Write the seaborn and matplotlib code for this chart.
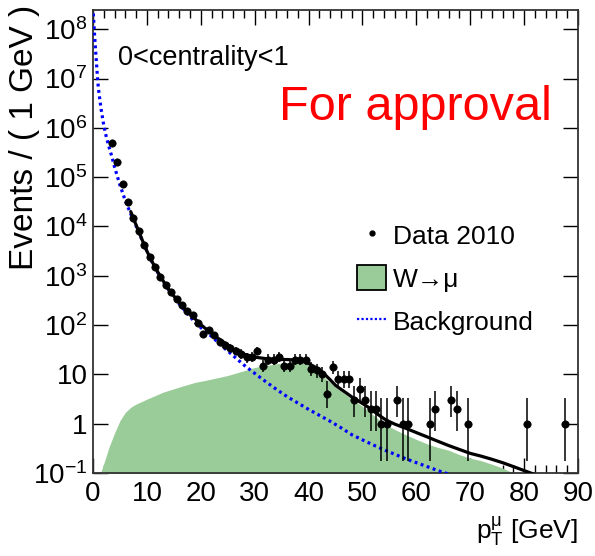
import numpy as np
import pandas as pd
import matplotlib
matplotlib.use("Agg")
import matplotlib.pyplot as plt
import seaborn as sns
from matplotlib.lines import Line2D
from matplotlib.patches import Patch
from matplotlib.ticker import FixedLocator, FuncFormatter, MultipleLocator

# ---- data: muon pT spectrum, 1 GeV bins ----
data_pt = [3.5, 4.5, 5.5, 6.5, 7.5, 8.5, 9.5, 10.5, 11.5, 12.5, 13.5, 14.5, 15.5,
           16.5, 17.5, 18.5, 19.5, 20.5, 21.5, 22.5, 23.5, 24.5, 25.5, 26.5, 27.5,
           28.5, 29.5, 30.5, 31.5, 32.5, 33.5, 34.5, 35.5, 36.5, 37.5, 38.5, 39.5,
           40.5, 41.5, 42.5, 43.5, 44.5, 45.5, 46.5, 47.5, 48.5, 49.5, 50.5, 51.5,
           52.5, 53.5, 54.5, 56.5, 57.5, 58.5, 62.5, 63.5, 66.5, 67.5, 69.5, 80.5,
           87.5]
data_counts = [500000, 200000, 74000, 32000, 15000, 7900, 4200, 2400, 1480, 955,
               660, 468, 339, 251, 195, 158, 110, 66, 79, 63, 46, 39, 35, 30, 26,
               22, 23, 30, 15, 20, 20, 23, 15, 15, 20, 20, 20, 13, 12, 10, 4, 14,
               8, 8, 8, 3, 5, 3, 2, 2, 1, 1, 3, 1, 1, 1, 2, 3, 2, 1, 1, 1]

# ---- total fit ----
fit_pt = [7, 8, 9, 10, 11, 12, 13, 14, 15, 16, 17, 18, 19, 20, 21, 22, 23, 24, 25,
          26, 27, 28, 29, 30, 32, 34, 36, 38, 39, 40, 41, 42, 43, 44, 45, 46, 47,
          48, 49, 50, 51, 52, 53, 54, 55, 56, 57, 58, 60, 62, 64, 66, 68, 70, 72,
          74, 76, 78, 80, 82]
fit_val = [20000, 10700, 5750, 3160, 1900, 1200, 794, 537, 389, 288, 219, 166, 132,
           102, 83, 69, 56, 47, 39, 33, 29, 25.7, 24.0, 22.4, 20.9, 20.0, 20.0,
           19.5, 18.6, 16.6, 14.5, 12.3, 10.0, 7.8, 6.0, 5.0, 4.2, 3.5, 3.0, 2.57,
           2.19, 1.82, 1.51, 1.26, 1.10, 0.98, 0.89, 0.81, 0.66, 0.54, 0.44, 0.36,
           0.30, 0.25, 0.22, 0.19, 0.162, 0.135, 0.112, 0.093]

# ---- W -> mu signal component ----
w_pt = [1.4, 2.0, 3.0, 4.0, 5.0, 6.0, 7.0, 8.0, 9.0, 10, 11.5, 13, 14.5, 16.5, 19,
        21, 23, 25, 27, 28.5, 30, 32, 34.5, 37, 38.5, 40, 41.5, 42.5, 44, 45, 46.5,
        48, 50, 52, 54, 56, 58, 60, 62, 64, 66, 68, 70, 72, 74, 76, 78, 79]
w_val = [0.10, 0.155, 0.34, 0.65, 1.15, 1.7, 2.15, 2.5, 2.8, 3.15, 3.7, 4.35, 4.9,
         5.75, 6.9, 7.6, 8.5, 9.5, 11.0, 12.3, 13.8, 15.1, 16.6, 17.8, 17.8, 15.5,
         12.0, 9.5, 6.9, 5.5, 4.2, 3.15, 2.25, 1.5, 1.0, 0.76, 0.60, 0.48, 0.39,
         0.33, 0.29, 0.235, 0.20, 0.178, 0.151, 0.126, 0.10, 0.085]

# ---- background component ----
bkg_pt = [0.0, 0.25, 0.5, 0.75, 1.0, 1.5, 2.0, 2.5, 3.0, 3.5, 4.0, 4.5, 5.0, 5.5,
          6.0, 7.0, 8.0, 9.0, 10, 11, 12, 13, 14, 15, 16, 17, 18, 19, 20, 22, 24,
          26, 28, 30, 32, 34, 36, 38, 40, 42, 44, 46, 48, 50, 52, 54, 56, 58, 60,
          62, 64, 66]
bkg_val = [2.8e8, 8.9e7, 3.5e7, 1.4e7, 6.3e6, 2.4e6, 1.12e6, 6.3e5, 4.0e5, 2.6e5,
           1.6e5, 1.05e5, 6.9e4, 4.8e4, 3.3e4, 1.8e4, 1.02e4, 5600, 3160, 1860,
           1170, 776, 525, 372, 269, 200, 148, 112, 89, 59, 37, 24, 15.5, 10.5,
           7.2, 5.0, 3.55, 2.63, 1.95, 1.48, 1.12, 0.83, 0.60, 0.47, 0.37, 0.295,
           0.24, 0.195, 0.162, 0.135, 0.112, 0.095]

x_ticks = [0, 10, 20, 30, 40, 50, 60, 70, 80, 90]
y_ticks = [1e-1, 1, 10, 1e2, 1e3, 1e4, 1e5, 1e6, 1e7, 1e8]

FONT = ["Liberation Sans", "DejaVu Sans"]
sns.set_theme(style="ticks")
plt.rcParams["font.family"] = FONT
plt.rcParams["text.color"] = "black"
plt.rcParams["axes.labelcolor"] = "black"
plt.rcParams["mathtext.fontset"] = "custom"
plt.rcParams["mathtext.rm"] = "Liberation Sans"
plt.rcParams["mathtext.it"] = "Liberation Sans"
plt.rcParams["mathtext.default"] = "regular"

W, H = 595, 556
fig = plt.figure(figsize=(W / 100, H / 100), dpi=100)
ax = fig.add_axes([93 / W, 83 / H, 485 / W, 463 / H])

green = "#99cc99"
ax.fill_between(w_pt, 1e-3, w_val, color=green, lw=0, zorder=1)

fit_df = pd.DataFrame({"pt": fit_pt, "val": fit_val})
bkg_df = pd.DataFrame({"pt": bkg_pt, "val": bkg_val})
sns.lineplot(data=bkg_df, x="pt", y="val", ax=ax, color="#0000ff", lw=2.3,
             linestyle=(0, (0.9, 1.1)), sort=False, zorder=3)
sns.lineplot(data=fit_df, x="pt", y="val", ax=ax, color="black", lw=2.3,
             sort=False, zorder=4)

# Poisson (Gehrels) intervals for the data points
n = np.asarray(data_counts, dtype=float)
lo = n * (1 - 1 / (9 * n) - 1 / (3 * np.sqrt(n))) ** 3
hi = n + 1 + np.sqrt(n + 0.75)
ax.errorbar(data_pt, n, yerr=[n - lo, hi - n], xerr=0.5, fmt="none",
            ecolor="black", elinewidth=1.1, capsize=0, zorder=5)
sns.scatterplot(x=data_pt, y=data_counts, ax=ax, color="black", s=28,
                marker="o", edgecolor="black", linewidth=0.5, zorder=6)

ax.set_yscale("log")
ax.set_xlim(0, 90)
ax.set_ylim(0.1, 2.45e8)
ax.set_xlabel("")
ax.set_ylabel("")

ax.xaxis.set_major_locator(FixedLocator(x_ticks))
ax.xaxis.set_minor_locator(MultipleLocator(2))
ax.yaxis.set_major_locator(FixedLocator(y_ticks))


def ylab(v, pos):
    if abs(v - 1) < 1e-9:
        return "1"
    if abs(v - 10) < 1e-9:
        return "10"
    return r"$10^{%d}$" % int(round(np.log10(v)))


ax.yaxis.set_major_formatter(FuncFormatter(ylab))
ax.tick_params(which="both", direction="in", top=True, right=True,
               width=1.0, color="black", labelsize=20, labelcolor="black")
ax.tick_params(which="major", length=11)
ax.tick_params(which="minor", length=6)
ax.tick_params(axis="x", which="major", pad=6)
ax.tick_params(axis="y", which="major", pad=4)
for s in ax.spines.values():
    s.set_linewidth(1.3)
    s.set_color("#333333")

# axis titles placed at fixed spots of the canvas
fig.text(578 / W, 1 - 531 / H, r"$p_{T}^{\mu}$ [GeV]", fontsize=19,
         ha="right", va="center", color="black")
fig.text(25 / W, 1 - 5 / H, "Events / ( 1 GeV )", fontsize=24, rotation=90,
         ha="center", va="top", color="black")

fig.text(118 / W, 1 - 58 / H, "0<centrality<1", fontsize=19.5,
         va="center", ha="left", color="black")
fig.text(552 / W, 1 - 108 / H, "For approval", fontsize=35, color="#ff0000",
         va="center", ha="right")

handles = [
    Line2D([], [], marker="o", color="black", linestyle="none", markersize=3.5),
    Patch(facecolor=green, edgecolor="black", linewidth=1.3),
    Line2D([], [], color="#0000ff", lw=1.6, linestyle=(0, (1, 1))),
]
leg = ax.legend(handles, ["Data 2010", "W\u2192\u03bc", "Background"],
                loc="upper left", bbox_to_anchor=(357 / W, 1 - 222 / H),
                bbox_transform=fig.transFigure, frameon=False, fontsize=19,
                handlelength=1.1, handleheight=1.1, handletextpad=0.25,
                labelspacing=0.62, borderaxespad=0, borderpad=0)
for t in leg.get_texts():
    t.set_color("black")

fig.savefig("out.png", dpi=100)
